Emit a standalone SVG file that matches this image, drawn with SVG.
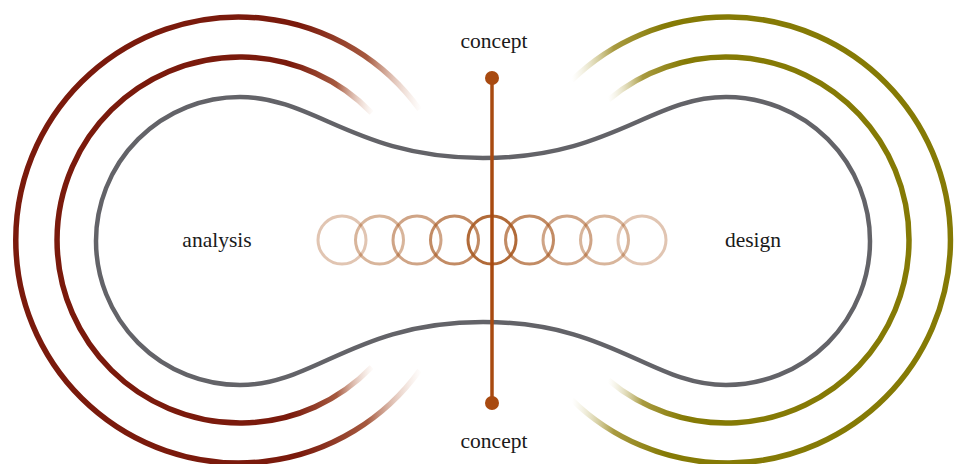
<svg xmlns="http://www.w3.org/2000/svg" width="956" height="464" viewBox="0 0 956 464">
<defs>
<style>
.lbl{font-family:"Liberation Serif","Times New Roman",serif;font-size:21.5px;fill:#1a1a1a;text-anchor:middle}
.arc{fill:none;stroke-width:5.5}
.gray{fill:none;stroke:#636368;stroke-width:4.5}
.ring{fill:none;stroke:#a85a22;stroke-width:3}
</style>
<linearGradient id="gLo" gradientUnits="userSpaceOnUse" x1="300" y1="0" x2="422" y2="0">
<stop offset="0" stop-color="#7a1a0c"/><stop offset="0.55" stop-color="#a65a40"/><stop offset="1" stop-color="#e8c4b0" stop-opacity="0"/>
</linearGradient>
<linearGradient id="gLi" gradientUnits="userSpaceOnUse" x1="290" y1="0" x2="375" y2="0">
<stop offset="0" stop-color="#7a1a0c"/><stop offset="0.55" stop-color="#a65a40"/><stop offset="1" stop-color="#e8c4b0" stop-opacity="0"/>
</linearGradient>
<linearGradient id="gRo" gradientUnits="userSpaceOnUse" x1="665" y1="0" x2="572" y2="0">
<stop offset="0" stop-color="#857a05"/><stop offset="0.55" stop-color="#a89a40"/><stop offset="1" stop-color="#e0dab0" stop-opacity="0"/>
</linearGradient>
<linearGradient id="gRi" gradientUnits="userSpaceOnUse" x1="685" y1="0" x2="608" y2="0">
<stop offset="0" stop-color="#857a05"/><stop offset="0.55" stop-color="#a89a40"/><stop offset="1" stop-color="#e0dab0" stop-opacity="0"/>
</linearGradient>
</defs>
<rect width="956" height="464" fill="#ffffff"/>
<g id="analysis-arcs">
<path class="arc" stroke="url(#gLo)" d="M 419.6,109.5 A 223 223 0 1 0 419.6,370.5"/>
<path class="arc" stroke="url(#gLi)" d="M 371.6,112.8 A 183 183 0 1 0 371.6,367.2"/>
</g>
<g id="design-arcs">
<path class="arc" stroke="url(#gRo)" d="M 571.7,80.4 A 223 223 0 1 1 571.7,399.6"/>
<path class="arc" stroke="url(#gRi)" d="M 608.4,99.8 A 183 183 0 1 1 608.4,380.2"/>
</g>
<g id="outline">
<path class="gray" d="M 240,97 C 315,97 355,158 483,158 C 611,158 651,97 726,97 A 144 144 0 0 1 726,385 C 651,385 611,322 483,322 C 355,322 315,385 240,385 A 144 144 0 0 1 240,97 Z"/>
</g>
<g id="rings">
<circle class="ring" cx="342" cy="240" r="24" stroke-opacity="0.35"/>
<circle class="ring" cx="379.5" cy="240" r="24" stroke-opacity="0.45"/>
<circle class="ring" cx="417" cy="240" r="24" stroke-opacity="0.55"/>
<circle class="ring" cx="454.5" cy="240" r="24" stroke-opacity="0.7"/>
<circle class="ring" cx="492" cy="240" r="24" stroke-opacity="0.9"/>
<circle class="ring" cx="529.5" cy="240" r="24" stroke-opacity="0.7"/>
<circle class="ring" cx="567" cy="240" r="24" stroke-opacity="0.55"/>
<circle class="ring" cx="604.5" cy="240" r="24" stroke-opacity="0.45"/>
<circle class="ring" cx="642" cy="240" r="24" stroke-opacity="0.35"/>
</g>
<g id="connectors">
<line x1="492" y1="78" x2="492" y2="403" stroke="#a84a10" stroke-width="3.5"/>
<circle cx="492" cy="78" r="7" fill="#a84a10"/>
<circle cx="492" cy="403" r="7" fill="#a84a10"/>
</g>
<g id="node-concept-top"><text class="lbl" x="494" y="48">concept</text></g>
<g id="node-concept-bottom"><text class="lbl" x="494" y="448">concept</text></g>
<g id="node-analysis"><text class="lbl" x="217" y="247">analysis</text></g>
<g id="node-design"><text class="lbl" x="753" y="247">design</text></g>
</svg>
